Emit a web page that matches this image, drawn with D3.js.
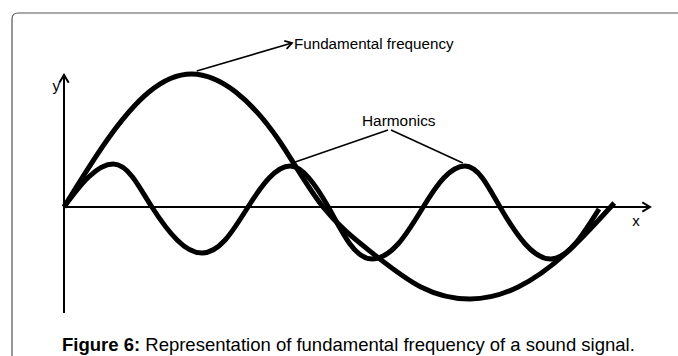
<!DOCTYPE html>
<html>
<head>
<meta charset="utf-8">
<script src="https://cdn.jsdelivr.net/npm/d3@7"></script>
<style>
  body { margin: 0; background: #fff; }
  svg { display: block; font-family: Arial, "Liberation Sans", sans-serif; }
</style>
</head>
<body>
<div id="fig"></div>
<script>
// fundamental wave, [time, amplitude]
var fundT = [0, 0.73, 1.45, 2.18, 2.93, 3.67, 4.42, 5.26, 6.09, 6.93, 7.75, 8.57, 9.39];
var fundA = [0, 0.665, 1.15, 1.33, 1.15, 0.665, 0, -0.46, -0.80, -0.92, -0.80, -0.46, 0.04];

// harmonic wave
var harmT = [0, 0.42, 0.84, 1.17, 1.50, 1.93, 2.35, 2.75, 3.14, 3.50, 3.86, 4.18, 4.51, 4.88, 5.26, 5.70, 6.13, 6.48, 6.84, 7.14, 7.44, 7.87, 8.31, 8.72, 9.13];
var harmA = [0, 0.30, 0.43, 0.30, 0, -0.33, -0.46, -0.33, 0, 0.29, 0.41, 0.29, 0, -0.37, -0.52, -0.37, 0, 0.29, 0.41, 0.29, 0, -0.37, -0.52, -0.37, -0.02];

var fundLabel = "Fundamental frequency";
var harmLabel = "Harmonics";
var caption = ["Figure 6:", " Representation of fundamental frequency of a sound signal."];

var svg = d3.select("#fig").append("svg")
  .attr("width", 678)
  .attr("height", 356);

// frame, runs off the right and bottom
svg.append("path")
  .attr("d", "M12,400 L12,19 Q12,13 18,13 L700,13")
  .attr("fill", "none")
  .attr("stroke", "#555")
  .attr("stroke-width", 1.2);

var x = d3.scaleLinear().domain([0, 10]).range([64, 650]);
var y = d3.scaleLinear().domain([-1, 1]).range([307, 107]);

function arrowHead(g, x1, y1, x2, y2, size, w) {
  var a = Math.atan2(y2 - y1, x2 - x1);
  var p1 = [x2 - size * Math.cos(a - 0.55), y2 - size * Math.sin(a - 0.55)];
  var p2 = [x2 - size * Math.cos(a + 0.55), y2 - size * Math.sin(a + 0.55)];
  g.append("path")
    .attr("d", "M" + p1 + "L" + x2 + "," + y2 + "L" + p2)
    .attr("fill", "none")
    .attr("stroke", "#000")
    .attr("stroke-width", w);
}

var axes = svg.append("g");
// x axis
axes.append("line")
  .attr("x1", x(0)).attr("y1", y(0))
  .attr("x2", x(10)).attr("y2", y(0))
  .attr("stroke", "#000").attr("stroke-width", 2);
arrowHead(axes, x(0), y(0), x(10), y(0), 9, 2);
// y axis
axes.append("line")
  .attr("x1", x(0)).attr("y1", y(-1.06))
  .attr("x2", x(0)).attr("y2", y(1.32))
  .attr("stroke", "#000").attr("stroke-width", 2);
arrowHead(axes, x(0), y(-1.06), x(0), y(1.32), 9, 2);

axes.append("text").attr("x", x(0) - 4).attr("y", 91)
  .attr("text-anchor", "end").attr("font-size", 15).text("y");
axes.append("text").attr("x", 636).attr("y", 226)
  .attr("text-anchor", "middle").attr("font-size", 15).text("x");

var line = d3.line()
  .x(function (d) { return x(d[0]); })
  .y(function (d) { return y(d[1]); })
  .curve(d3.curveNatural);

var fund = d3.zip(fundT, fundA);
var harm = d3.zip(harmT, harmA);

svg.append("path")
  .datum(harm)
  .attr("d", line)
  .attr("fill", "none")
  .attr("stroke", "#000")
  .attr("stroke-width", 5);

svg.append("path")
  .datum(fund)
  .attr("d", line)
  .attr("fill", "none")
  .attr("stroke", "#000")
  .attr("stroke-width", 5);

// labels with leader lines
var ann = svg.append("g");
var peak = fund[3];
ann.append("line")
  .attr("x1", x(peak[0]) + 5).attr("y1", y(peak[1]) - 3)
  .attr("x2", 292).attr("y2", 43)
  .attr("stroke", "#000").attr("stroke-width", 1.6);
arrowHead(ann, x(peak[0]) + 5, y(peak[1]) - 3, 292, 43, 8, 1.8);
ann.append("text").attr("x", 294).attr("y", 49)
  .attr("font-size", 15.2).text(fundLabel);

var hp1 = harm[10], hp2 = harm[18];
ann.append("line")
  .attr("x1", 388).attr("y1", 130)
  .attr("x2", x(hp1[0]) + 5).attr("y2", y(hp1[1]) - 4)
  .attr("stroke", "#000").attr("stroke-width", 1.6);
ann.append("line")
  .attr("x1", 391).attr("y1", 130)
  .attr("x2", x(hp2[0]) - 2).attr("y2", y(hp2[1]) - 3)
  .attr("stroke", "#000").attr("stroke-width", 1.6);
ann.append("text").attr("x", 362).attr("y", 126)
  .attr("font-size", 15.4).text(harmLabel);

var cap = svg.append("text").attr("x", 62).attr("y", 351).attr("font-size", 18.5);
cap.append("tspan").attr("font-weight", "bold").text(caption[0]);
cap.append("tspan").text(caption[1]);
</script>
</body>
</html>
